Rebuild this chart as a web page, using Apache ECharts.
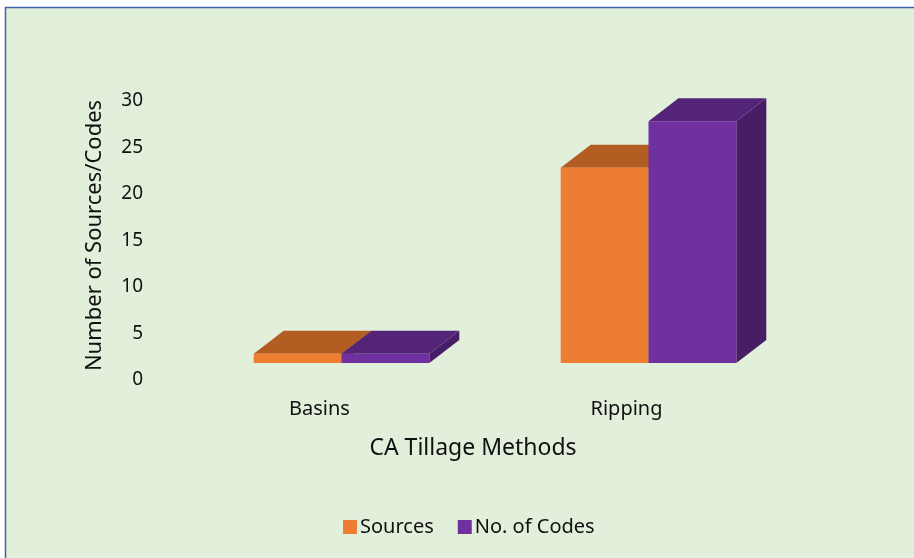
<!DOCTYPE html>
<html>
<head>
<meta charset="utf-8">
<script src="https://cdn.jsdelivr.net/npm/echarts@6/dist/echarts.min.js"></script>
<style>
  html, body { margin: 0; padding: 0; background: #fff; }
  #chart { width: 914px; height: 558px; }
</style>
</head>
<body>
<div id="chart"></div>
<script>
var categories = ["Basins", "Ripping"];
var sources = [1, 21];
var codes = [1, 26];
var seriesNames = ["Sources", "No. of Codes"];

// front / top / side shades for each series
var shades = [
  { front: "#ED7D31", top: "#B35D22", side: "#9E5020" },
  { front: "#7030A0", top: "#532478", side: "#471E66" }
];

var fontFam = "'Noto Sans', 'Open Sans', sans-serif";

function makeRender(idx) {
  return function (params, api) {
    var cat = api.value(0);
    var v = api.value(1);
    var base = api.coord([cat, 0]);
    var top = api.coord([cat, v]);
    var bw = api.size([1, 0])[0] * 0.286;
    // 3d offsets (front face sits a bit right/up of the axis floor)
    var fx = 22, fy = -17, dx = 30, dy = -23;
    var x0 = base[0] + fx + (idx - 1) * bw;
    var yb = base[1] + fy;
    var yt = top[1] + fy;
    var c = shades[idx];
    return {
      type: "group",
      children: [
        {
          type: "polygon",
          shape: { points: [[x0 + bw, yt], [x0 + bw + dx, yt + dy], [x0 + bw + dx, yb + dy], [x0 + bw, yb]] },
          style: { fill: c.side }
        },
        {
          type: "polygon",
          shape: { points: [[x0, yt], [x0 + bw, yt], [x0 + bw + dx, yt + dy], [x0 + dx, yt + dy]] },
          style: { fill: c.top }
        },
        {
          type: "rect",
          shape: { x: x0, y: yt, width: bw, height: yb - yt },
          style: { fill: c.front }
        }
      ]
    };
  };
}

function toData(arr) {
  return arr.map(function (v, i) { return [i, v]; });
}

var chart = echarts.init(document.getElementById("chart"));
chart.setOption({
  animation: false,
  backgroundColor: "#fff",
  graphic: [
    {
      type: "rect",
      z: -10,
      shape: { x: 5.5, y: 7.5, width: 930, height: 570 },
      style: { fill: "#E2EFDA", stroke: "#3E64AB", lineWidth: 1.5 }
    }
  ],
  grid: { left: 166, right: 134, top: 101, bottom: 178 },
  legend: {
    left: 338,
    top: 512,
    icon: "rect",
    itemWidth: 14,
    itemHeight: 14,
    itemGap: 24,
    itemStyle: { borderWidth: 0 },
    textStyle: { fontFamily: fontFam, fontSize: 20, color: "#111", padding: [0, 0, 0, -2] },
    data: seriesNames
  },
  xAxis: {
    type: "category",
    data: categories,
    name: "CA Tillage Methods",
    nameLocation: "middle",
    nameGap: 57,
    nameTextStyle: { fontFamily: fontFam, fontSize: 23, color: "#111" },
    axisLine: { show: false },
    axisTick: { show: false },
    axisLabel: { margin: 19, fontFamily: fontFam, fontSize: 20, color: "#111" }
  },
  yAxis: {
    type: "value",
    min: 0,
    max: 30,
    interval: 5,
    name: "Number of Sources/Codes",
    nameLocation: "middle",
    nameGap: 60,
    nameTextStyle: { fontFamily: fontFam, fontSize: 22, color: "#111", padding: [0, 0, 0, 10] },
    axisLine: { show: false },
    axisTick: { show: false },
    splitLine: { show: false },
    axisLabel: { margin: 23, fontFamily: fontFam, fontSize: 19, color: "#111" }
  },
  series: [
    {
      name: seriesNames[0],
      type: "custom",
      renderItem: makeRender(0),
      itemStyle: { color: shades[0].front },
      encode: { x: 0, y: 1 },
      data: toData(sources)
    },
    {
      name: seriesNames[1],
      type: "custom",
      renderItem: makeRender(1),
      itemStyle: { color: shades[1].front },
      encode: { x: 0, y: 1 },
      data: toData(codes)
    }
  ]
});
</script>
</body>
</html>
